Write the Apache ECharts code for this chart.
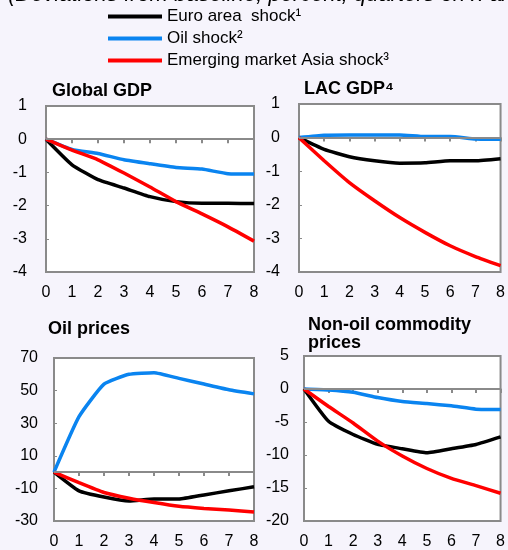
<!DOCTYPE html>
<html>
<head>
<meta charset="utf-8">
<script src="https://cdn.jsdelivr.net/npm/echarts@6/dist/echarts.min.js"></script>
<style>
html,body{margin:0;padding:0;background:#f6f4fc;}
#chart{width:508px;height:550px;}
</style>
</head>
<body>
<div id="chart"></div>
<script>
var quarters = [0, 1, 2, 3, 4, 5, 6, 7, 8];
var seriesNames = ['Euro area  shock\u00b9', 'Oil shock\u00b2', 'Emerging market Asia shock\u00b3'];
var panelTitles = ['Global GDP', 'LAC GDP\u2074', 'Oil prices', 'Non-oil commodity\nprices'];

var gdpEuro = [0, -0.77, -1.22, -1.47, -1.73, -1.88, -1.93, -1.93, -1.94];
var gdpOil = [0, -0.31, -0.43, -0.62, -0.74, -0.85, -0.90, -1.04, -1.05];
var gdpAsia = [0, -0.33, -0.62, -1.02, -1.44, -1.88, -2.25, -2.64, -3.07];

var lacEuro = [0, -0.35, -0.57, -0.69, -0.76, -0.75, -0.69, -0.69, -0.63];
var lacOil = [0, 0.07, 0.08, 0.08, 0.08, 0.03, 0.03, -0.04, -0.05];
var lacAsia = [0, -0.69, -1.34, -1.88, -2.38, -2.82, -3.22, -3.54, -3.81];

var oilEuro = [0, -11.5, -15.3, -17.7, -16.5, -16.5, -14, -11.5, -9];
var oilOil = [0, 34, 54, 60, 61, 57.5, 54, 50.5, 48];
var oilAsia = [0, -6.5, -12.5, -16, -18.7, -21, -22.3, -23.3, -24.5];

var nocEuro = [0, -4.9, -6.9, -8.4, -9.05, -9.65, -9.05, -8.4, -7.25];
var nocOil = [0, -0.15, -0.5, -1.3, -1.9, -2.2, -2.55, -3.05, -3.1];
var nocAsia = [0, -2.65, -5.15, -7.9, -10.15, -12.05, -13.55, -14.65, -15.8];

var gdpTicks = [-4, -3, -2, -1, 0, 1];
var oilTicks = [-30, -10, 10, 30, 50, 70];
var nocTicks = [-20, -15, -10, -5, 0, 5];

var colors = ['#000000', '#0a84f0', '#ff0000'];
var FONT = '"Liberation Sans", Arial, sans-serif';
var GRAY = '#8a8a8a';

var panels = [
  {data: [gdpEuro, gdpOil, gdpAsia], ticks: gdpTicks, grid: {left: 46, top: 106, width: 208, height: 166}, margin: 19},
  {data: [lacEuro, lacOil, lacAsia], ticks: gdpTicks, grid: {left: 299, top: 104, width: 204, height: 168}, margin: 19},
  {data: [oilEuro, oilOil, oilAsia], ticks: oilTicks, grid: {left: 54, top: 358, width: 200, height: 164}, margin: 16},
  {data: [nocEuro, nocOil, nocAsia], ticks: nocTicks, grid: {left: 304, top: 356, width: 199, height: 165}, margin: 15}
];
var titlePos = [[52, 82], [304, 80], [48, 320], [308, 316]];

function pairs(ys) {
  return quarters.map(function (q, i) { return [q, ys[i]]; });
}

var grids = [], xAxes = [], yAxes = [], series = [], titles = [];
panels.forEach(function (p, k) {
  grids.push(Object.assign({show: true, backgroundColor: '#ffffff', borderColor: GRAY, borderWidth: 2}, p.grid));
  xAxes.push({
    type: 'value', gridIndex: k, min: 0, max: 8, interval: 1,
    axisLine: {show: true, lineStyle: {color: GRAY, width: 2}},
    axisTick: {show: true, length: 4, lineStyle: {color: GRAY, width: 2}},
    axisLabel: {color: '#000', fontSize: 16, fontFamily: FONT, margin: 13},
    splitLine: {show: false}
  });
  yAxes.push({
    type: 'value', gridIndex: k,
    min: p.ticks[0], max: p.ticks[p.ticks.length - 1],
    axisLine: {show: true, lineStyle: {color: GRAY, width: 2}},
    axisTick: {show: true, inside: true, length: 3, customValues: p.ticks, lineStyle: {color: GRAY, width: 1}},
    axisLabel: {color: '#000', fontSize: 16, fontFamily: FONT, margin: p.margin, customValues: p.ticks},
    splitLine: {show: false}
  });
  p.data.forEach(function (ys, s) {
    var ser = {
      type: 'line', name: seriesNames[s], xAxisIndex: k, yAxisIndex: k,
      data: pairs(ys), symbol: 'none', smooth: 0.15,
      lineStyle: {color: colors[s], width: 3.5}, itemStyle: {color: colors[s]},
      silent: true, animation: false
    };
    if (s === 0) {
      ser.markLine = {
        silent: true, symbol: 'none', animation: false,
        label: {show: false},
        lineStyle: {color: GRAY, width: 2, type: 'solid'},
        data: [{yAxis: 0}]
      };
    }
    series.push(ser);
  });
  titles.push({
    text: panelTitles[k], left: titlePos[k][0], top: titlePos[k][1], padding: 0,
    textStyle: {fontSize: 18, fontWeight: 'bold', fontFamily: FONT, color: '#000', lineHeight: 18}
  });
});

var chart = echarts.init(document.getElementById('chart'), null, {renderer: 'canvas'});
chart.setOption({
  backgroundColor: '#f6f4fc',
  animation: false,
  title: titles,
  legend: {
    data: seriesNames.map(function (n, i) { return {name: n, icon: 'rect', itemStyle: {color: colors[i]}}; }),
    orient: 'vertical', left: 108, top: 8, padding: 0,
    itemWidth: 54, itemHeight: 4, itemGap: 5,
    textStyle: {fontSize: 17, fontFamily: FONT, color: '#000', lineHeight: 17},
    selectedMode: false
  },
  graphic: [{
    type: 'text', left: 8, top: -16,
    style: {text: '(Deviations from baseline; percent; quarters on x-axis)', font: 'italic 22px ' + FONT, fill: '#000'}
  }],
  grid: grids,
  xAxis: xAxes,
  yAxis: yAxes,
  series: series
});
</script>
</body>
</html>
